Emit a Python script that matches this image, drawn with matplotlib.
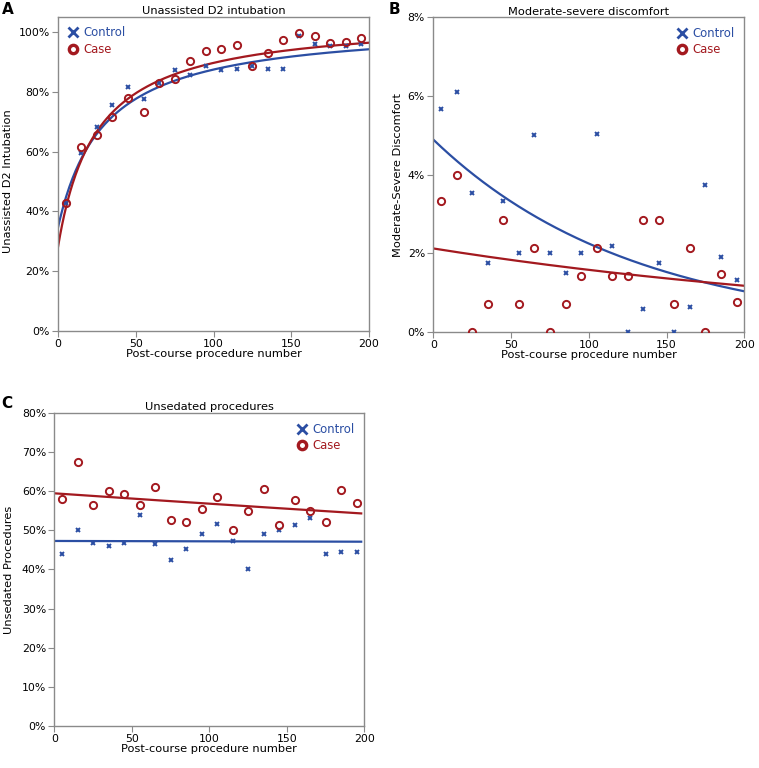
import numpy as np
import matplotlib
matplotlib.use("Agg")
import matplotlib.pyplot as plt
from matplotlib.lines import Line2D
from matplotlib.ticker import FuncFormatter

# procedure number (bin centres)
proc_nr = [5, 15, 25, 35, 45, 55, 65, 75, 85, 95, 105, 115, 125, 135, 145, 155, 165, 175, 185, 195]

# A: unassisted D2 intubation (%)
d2_control = [42.9, 59.4, 68.3, 75.6, 81.5, 77.6, 82.9, 87.3, 85.7, 88.5,
              87.3, 87.7, 88.6, 87.7, 87.7, 98.5, 95.9, 95.3, 95.3, 95.9]
d2_case = [42.7, 61.6, 65.7, 71.6, 77.8, 73.1, 82.9, 84.3, 90.3, 93.6,
           94.4, 95.6, 88.6, 92.9, 97.2, 99.7, 98.8, 96.4, 96.5, 98.0]
# fitted curves y = a - b / (x + c), parameters
d2_fit_control = (103.0, 2018.0, 29.5)
d2_fit_case = (104.8, 1888.0, 24.6)

# B: moderate-severe discomfort (%)
dis_control = [5.66, 6.09, 3.54, 1.76, 3.33, 2.01, 5.01, 2.01, 1.50, 2.01,
               5.04, 2.18, 0.0, 0.57, 1.74, 0.0, 0.62, 3.74, 1.89, 1.33]
dis_case = [3.32, 3.99, 0.0, 0.70, 2.84, 0.70, 2.14, 0.0, 0.70, 1.43,
            2.14, 1.43, 1.43, 2.84, 2.84, 0.70, 2.14, 0.0, 1.46, 0.75]
# fitted curves y = a * exp(-k x)
dis_fit_control = (4.89, 0.00779)
dis_fit_case = (2.12, 0.00297)

# C: unsedated procedures (%)
uns_control = [44.0, 50.2, 46.9, 46.0, 46.9, 54.0, 46.5, 42.5, 45.2, 49.0,
               51.6, 47.2, 40.1, 49.0, 50.2, 51.3, 53.1, 44.0, 44.6, 44.6]
uns_case = [58.0, 67.5, 56.5, 60.0, 59.2, 56.5, 61.2, 52.7, 52.1, 55.6,
            58.6, 50.0, 55.0, 60.6, 51.5, 57.7, 55.0, 52.1, 60.4, 57.1]
uns_fit_control = (47.3, 0.00002)
uns_fit_case = (59.5, 0.000457)

blau = "#2b4ea3"
rot = "#a3191f"
grau = "#8a8a8a"

plt.rcParams["font.family"] = ["DejaVu Sans"]
plt.rcParams["font.size"] = 8

fig = plt.figure(figsize=(7.59, 7.68), dpi=100)
ax_a = fig.add_axes([0.0764, 0.569, 0.4098, 0.4089])
ax_b = fig.add_axes([0.5709, 0.568, 0.4098, 0.4094])
ax_c = fig.add_axes([0.0716, 0.0551, 0.4084, 0.4068])

xs = np.linspace(0, 200, 300)


def hyperbel(x, p):
    a, b, c = p
    return a - b / (x + c)


def expo(x, p):
    a, k = p
    return a * np.exp(-k * x)


def style(ax, titel, ylabel, ymax, ystep, leg_loc):
    ax.set_xlim(0, 200)
    ax.set_ylim(0, ymax)
    ax.set_xticks([0, 50, 100, 150, 200])
    ax.set_yticks(np.arange(0, ymax + 0.001, ystep))
    ax.yaxis.set_major_formatter(FuncFormatter(lambda v, p: "%d%%" % round(v)))
    ax.set_title(titel, fontsize=8.2, pad=2)
    ax.set_xlabel("Post-course procedure number", fontsize=8.2, labelpad=0)
    ax.set_ylabel(ylabel, fontsize=8.2, labelpad=3)
    for s in ax.spines.values():
        s.set_color(grau)
        s.set_linewidth(1.0)
    ax.tick_params(direction="out", length=4, color=grau, labelsize=7.8, pad=2)
    handles = [
        Line2D([], [], ls="none", marker="x", ms=6.5, mew=2.0, color=blau),
        Line2D([], [], ls="none", marker="o", ms=6, mew=2.4, mfc="none", mec=rot),
    ]
    leg = ax.legend(handles, ["Control", "Case"], loc=leg_loc, frameon=False, fontsize=8.4,
                    handletextpad=0.4, borderaxespad=0.4, labelspacing=0.3, handlelength=1.0)
    for txt, col in zip(leg.get_texts(), [blau, rot]):
        txt.set_color(col)


def scatter(ax, y_ctrl, y_case):
    ax.plot(proc_nr, y_ctrl, ls="none", marker="x", ms=3.5, mew=1.4, color=blau, zorder=3)
    ax.plot(proc_nr, y_case, ls="none", marker="o", ms=5.2, mew=1.4, mfc="none", mec=rot, zorder=3)


# A
scatter(ax_a, d2_control, d2_case)
ax_a.plot(xs, hyperbel(xs, d2_fit_control), color=blau, lw=1.6, zorder=2)
ax_a.plot(xs, hyperbel(xs, d2_fit_case), color=rot, lw=1.6, zorder=2)
style(ax_a, "Unassisted D2 intubation", "Unassisted D2 Intubation", 105, 20, "upper left")
ax_a.set_yticks(np.arange(0, 101, 20))
ax_a.yaxis.set_label_coords(-0.145, 50 / 105)

# B
scatter(ax_b, dis_control, dis_case)
ax_b.plot(xs, expo(xs, dis_fit_control), color=blau, lw=1.6, zorder=2)
ax_b.plot(xs, expo(xs, dis_fit_case), color=rot, lw=1.6, zorder=2)
style(ax_b, "Moderate-severe discomfort", "Moderate-Severe Discomfort", 8, 2, "upper right")

# C
scatter(ax_c, uns_control, uns_case)
xs_c = np.linspace(0, 198, 300)
ax_c.plot(xs_c, expo(xs_c, uns_fit_control), color=blau, lw=1.6, zorder=2)
ax_c.plot(xs_c, expo(xs_c, uns_fit_case), color=rot, lw=1.6, zorder=2)
style(ax_c, "Unsedated procedures", "Unsedated Procedures", 80, 10, "upper right")
ax_c.yaxis.set_label_coords(-0.13, 0.5)

# panel letters
fig.text(0.002, 0.997, "A", fontsize=11, fontweight="bold", va="top", ha="left")
fig.text(0.512, 0.997, "B", fontsize=11, fontweight="bold", va="top", ha="left")
fig.text(0.002, 0.484, "C", fontsize=11, fontweight="bold", va="top", ha="left")

fig.savefig("out.png", dpi=100)
